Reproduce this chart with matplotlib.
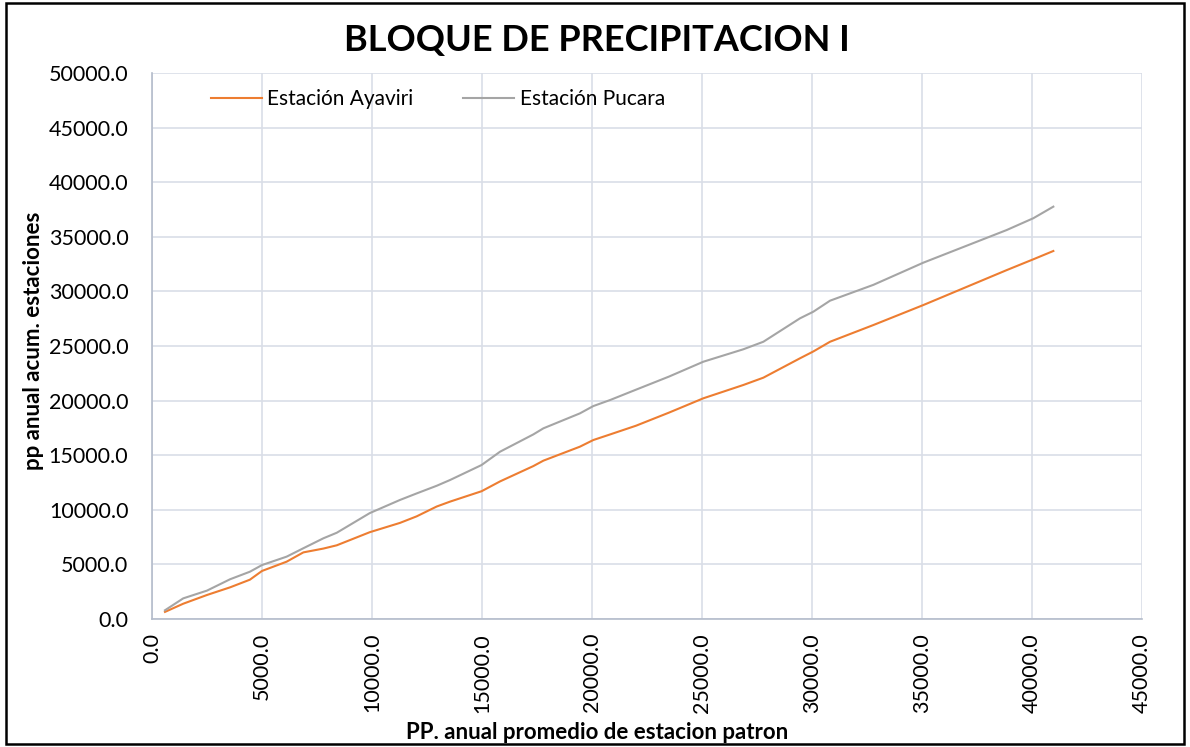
import matplotlib
matplotlib.use("Agg")
import matplotlib.pyplot as plt
from matplotlib.patches import Rectangle

plt.rcParams['font.family'] = ['Lato', 'DejaVu Sans']

x_patron = [590, 1420, 2500, 3550, 4450, 5000, 6120, 6880, 7790, 8400, 9900, 11270, 12030,
            12940, 13550, 14980, 15820, 17330, 17790, 19450, 20060, 20820, 22000, 23500,
            25060, 26880, 27790, 29450, 30060, 30820, 32790, 35060, 38850, 40060, 40970]
ayaviri = [650, 1400, 2200, 2900, 3600, 4400, 5250, 6100, 6450, 6750, 7950, 8800, 9400,
           10300, 10750, 11700, 12600, 14000, 14500, 15780, 16390, 16900, 17700, 18900,
           20210, 21430, 22100, 23870, 24500, 25390, 26920, 28750, 31950, 32940, 33700]
pucara = [800, 1890, 2600, 3640, 4330, 4940, 5710, 6480, 7390, 7900, 9700, 10900, 11500,
          12200, 12730, 14100, 15320, 16900, 17460, 18830, 19500, 20050, 21000, 22200,
          23560, 24700, 25390, 27530, 28140, 29150, 30600, 32630, 35620, 36700, 37760]

x_ticks = list(range(0, 45001, 5000))
y_ticks = list(range(0, 50001, 5000))

fig = plt.figure(figsize=(11.9, 7.47), dpi=100)
ax = fig.add_axes([152/1190, 1-619/747, (1142-152)/1190, (619-73)/747])

ax.plot(x_patron, ayaviri, color='#ED7D31', lw=1.5, label='Estación Ayaviri')
ax.plot(x_patron, pucara, color='#A5A5A5', lw=1.5, label='Estación Pucara')

ax.set_xlim(0, 45000)
ax.set_ylim(0, 50000)
ax.set_xticks(x_ticks)
ax.set_xticklabels([f"{v:.1f}" for v in x_ticks], rotation=90, fontsize=15.5)
ax.set_yticks(y_ticks)
ax.set_yticklabels([f"{v:.1f}" for v in y_ticks], fontsize=15.5)
ax.tick_params(axis='x', length=0, pad=10)
ax.tick_params(axis='y', length=0, pad=17)
ax.grid(True, color='#d9dee7', lw=1.2)
ax.set_axisbelow(True)
for s in ['top', 'right']:
    ax.spines[s].set_visible(False)
for s in ['left', 'bottom']:
    ax.spines[s].set_color('#b4bccb')
    ax.spines[s].set_linewidth(1.2)

ax.set_xlabel('PP. anual promedio de estacion patron', fontsize=16, fontweight='bold')
ax.xaxis.set_label_coords((597-152)/990, (619-722)/546)
ax.set_ylabel('pp anual acum. estaciones', fontsize=16, fontweight='bold')
ax.yaxis.set_label_coords((44-152)/990, 0.509)
fig.text(597/1190, 1-40/747, 'BLOQUE DE PRECIPITACION I', ha='center', va='center',
         fontsize=26, fontweight='bold')

ax.legend(loc='upper left', bbox_to_anchor=((211-152)/990, (619-89)/546), ncol=2, frameon=False,
          fontsize=15, handlelength=2.45, handletextpad=0.25, columnspacing=2.4,
          borderpad=0, borderaxespad=0)

fig.patches.append(Rectangle((0.005, 0.004), 0.99, 0.992, transform=fig.transFigure,
                             fill=False, edgecolor='black', lw=1.8))

fig.savefig('out.png', dpi=100)
